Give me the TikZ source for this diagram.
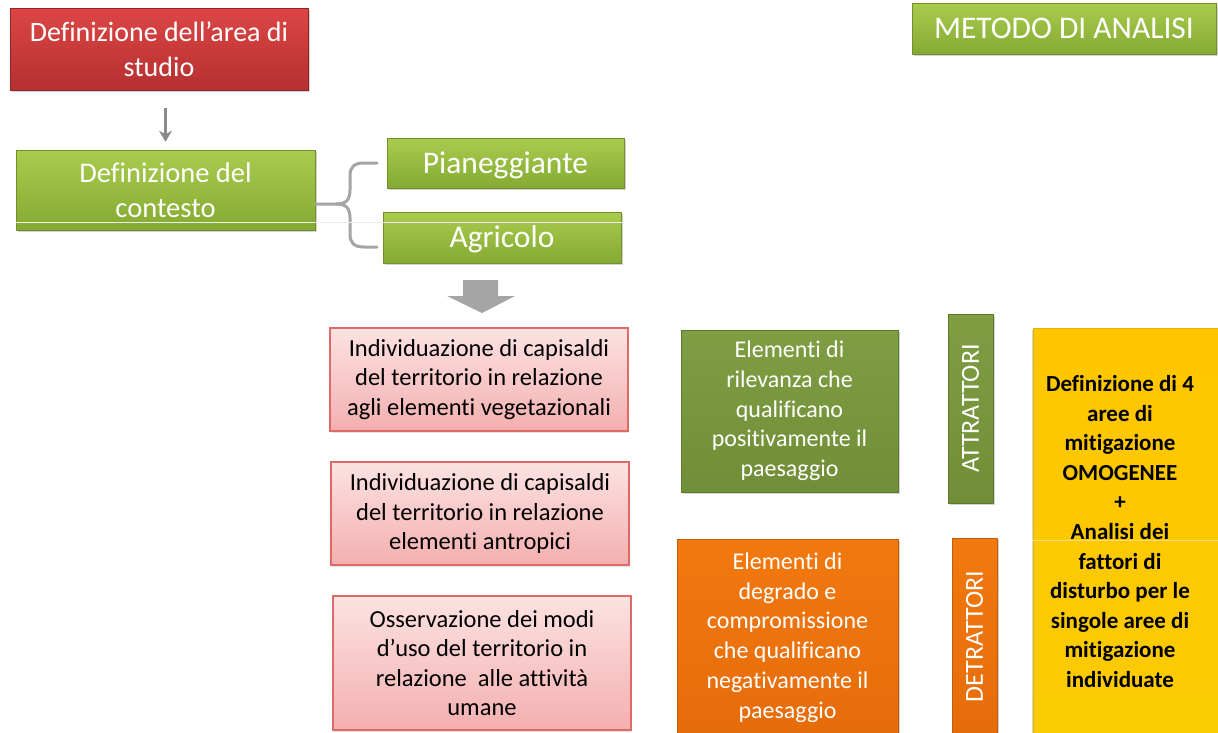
\documentclass[tikz,border=0pt]{standalone}
\usepackage{fontspec}
\setmainfont{Carlito}[Ligatures=NoCommon]
\usetikzlibrary{shadows,arrows.meta}
\definecolor{redT}{HTML}{DC4645}
\definecolor{redB}{HTML}{B5302F}
\definecolor{lgT}{HTML}{A9CC4E}
\definecolor{lgB}{HTML}{85AA33}
\definecolor{dgT}{HTML}{7F9E42}
\definecolor{dgB}{HTML}{718E38}
\definecolor{orT}{HTML}{F2790F}
\definecolor{orB}{HTML}{E56C0A}
\definecolor{yeT}{HTML}{FFC600}
\definecolor{yeB}{HTML}{FBCB04}
\definecolor{pkT}{HTML}{FCE2E2}
\definecolor{pkB}{HTML}{F4AFAF}
\definecolor{pkD}{HTML}{DE6A68}
\definecolor{grA}{HTML}{8A8A8A}
\definecolor{grB}{HTML}{A5A5A5}
\tikzset{
  box/.style={rectangle, inner sep=0pt, align=center, text=white,
    drop shadow={opacity=0.35, shadow xshift=1.5pt, shadow yshift=-2pt}},
  redbox/.style={box, top color=redT, bottom color=redB, draw=redB!80!black, line width=0.6pt,
    font=\fontsize{28}{35}\selectfont},
  lgbox/.style={box, top color=lgT, bottom color=lgB, draw=lgB!85!black, line width=0.6pt},
  dgbox/.style={box, top color=dgT, bottom color=dgB, draw=dgB!85!black, line width=0.6pt,
    font=\fontsize{24}{29.7}\selectfont},
  orbox/.style={box, top color=orT, bottom color=orB, draw=orB!85!black, line width=0.6pt,
    font=\fontsize{24}{29.7}\selectfont},
  sidelabel/.style={font=\fontsize{26}{30}\selectfont},
  pinkbox/.style={rectangle, inner sep=0pt, align=center, text=black,
    top color=pkT, bottom color=pkB, draw=pkD, line width=1.2pt,
    font=\fontsize{24.5}{29.2}\selectfont,
    drop shadow={opacity=0.2, shadow xshift=1pt, shadow yshift=-1.5pt}},
  yebox/.style={rectangle, inner sep=0pt, top color=yeT, bottom color=yeB, draw=yeT!90!black,
    line width=0.6pt, drop shadow={opacity=0.3, shadow xshift=-1.5pt, shadow yshift=-2pt}},
  brace/.style={draw=grB, line width=3pt, line cap=round},
}
\begin{document}
\begin{tikzpicture}[x=1pt,y=-1pt]
\useasboundingbox (0,0) rectangle (1218,732);
\fill[white] (0,0) rectangle (1218,732);
\begin{scope}
\clip (0,0) rectangle (1218,732);
% top left
\node[redbox, minimum width=298pt, minimum height=82pt] (red) at (159,49)
  {Definizione dell’area di\\studio};
\node[lgbox, minimum width=299pt, minimum height=80pt, font=\fontsize{28.5}{35}\selectfont] (ctx) at (165.5,190)
  {Definizione del\\contesto};
\node[lgbox, minimum width=237pt, minimum height=50pt, font=\fontsize{31.5}{34}\selectfont,
  text depth=4pt, text height=24pt] (pian) at (505.5,163)
  {Pianeggiante};
\node[lgbox, minimum width=238pt, minimum height=51pt, font=\fontsize{31.5}{34}\selectfont,
  text depth=4pt, text height=24pt] (agri) at (502,237.5)
  {Agricolo};
\node[lgbox, minimum width=304pt, minimum height=51pt, font=\fontsize{31.5}{34}\selectfont,
  text depth=4pt, text height=24pt] (metodo) at (1064,28.5)
  {METODO DI ANALISI};
% arrow red -> ctx
\draw[grA, line width=3pt, -{Stealth[length=11pt,width=13pt]}, shorten <=18pt, shorten >=8pt]
  (red.south -| ctx.north) -- (ctx.north);
% brace
\coordinate (bmid) at (336,204);
\coordinate (btop) at (377,163);
\coordinate (bbot) at (377,247);
\draw[brace] (ctx.east |- bmid) -- (bmid) .. controls (346,204) and (350,200) .. (350,190)
  -- (350,176) .. controls (350,167) and (354,163) .. (364,163) -- (btop);
\draw[brace] (bmid) .. controls (346,204) and (350,208) .. (350,218)
  -- (350,234) .. controls (350,243) and (354,247) .. (364,247) -- (bbot);
% light artifact line
\draw[white!85!gray, line width=1pt] (15,222) -- (625,222);
% block arrow
\fill[grB] (463,280) -- (498,280) -- (498,296) -- (515,296) -- (482,313) -- (447,296) -- (463,296) -- cycle;
% pink boxes
\node[pinkbox, minimum width=298pt, minimum height=103pt] (p1) at (479,379.5)
  {Individuazione di capisaldi\\del territorio in relazione\\agli elementi vegetazionali};
\node[pinkbox, minimum width=298pt, minimum height=103pt] (p2) at (480,513.5)
  {Individuazione di capisaldi\\del territorio in relazione\\elementi antropici};
\node[pinkbox, minimum width=298pt, minimum height=134pt] (p3) at (482,663)
  {Osservazione dei modi\\d’uso del territorio in\\relazione\ \ alle attività\\umane};
% elements
\node[dgbox, minimum width=217pt, minimum height=162pt] (attel) at (789.5,411)
  {Elementi di\\rilevanza che\\qualificano\\positivamente il\\paesaggio};
\node[orbox, minimum width=221pt, minimum height=197pt] (detel) at (787.5,637.5)
  {Elementi di\\degrado e\\compromissione\\che qualificano\\negativamente il\\paesaggio};
\node[dgbox, sidelabel, rotate=90, minimum width=189pt, minimum height=45pt] (att) at (970.5,408.5)
  {ATTRATTORI};
\node[orbox, sidelabel, rotate=90, minimum width=197pt, minimum height=45pt] (det) at (974.5,636.5)
  {DETRATTORI};
% yellow box
\node[yebox, minimum width=192pt, minimum height=407pt] (ye) at (1129,531.5) {};
\draw[yeT!60!white, line width=0.8pt] (ye.west |- 0,540) -- (1218,540);
\node[font=\fontsize{23}{29.6}\selectfont\bfseries, align=center, text=black] (yetxt) at (1120,531.5)
  {Definizione di 4\\aree di\\mitigazione\\OMOGENEE\\+\\Analisi dei\\fattori di\\disturbo per le\\singole aree di\\mitigazione\\individuate};
\end{scope}
\end{tikzpicture}
\end{document}
